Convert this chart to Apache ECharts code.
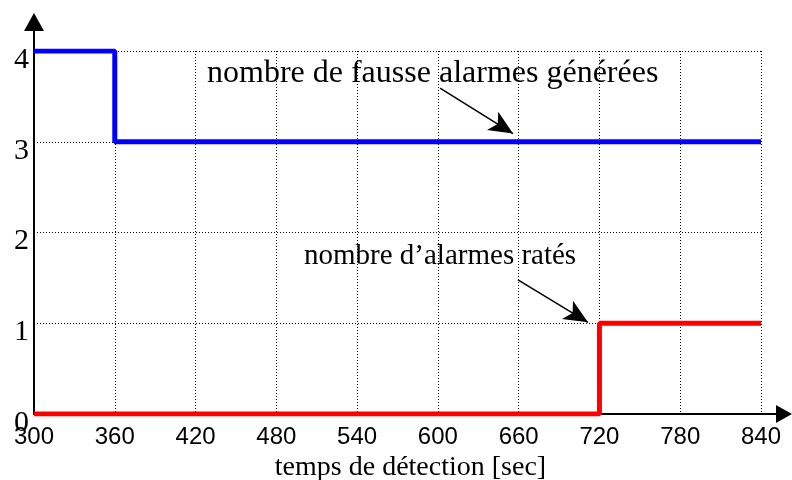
<!DOCTYPE html>
<html>
<head>
<meta charset="utf-8">
<script src="https://cdn.jsdelivr.net/npm/echarts@6/dist/echarts.min.js"></script>
<style>
  html, body { margin: 0; padding: 0; background: #fff; }
  #chart { width: 792px; height: 480px; }
</style>
</head>
<body>
<div id="chart"></div>
<script>
// Detection time axis (seconds) and count axis
const xMin = 300, xMax = 840, xStep = 60;
const yMin = 0, yMax = 4, yStep = 1;

// Number of false alarms generated, as a step function of detection time
const falseAlarmTimes = [300, 360, 840];
const falseAlarmCounts = [4, 3, 3];

// Number of missed alarms, as a step function of detection time
const missedTimes = [300, 720, 840];
const missedCounts = [0, 1, 1];

// Annotation texts
const falseAlarmLabel = 'nombre de fausse alarmes générées';
const missedLabel = 'nombre d\u2019alarmes ratés';
const xAxisTitle = 'temps de détection [sec]';

const serif = '"Liberation Serif", "Times New Roman", serif';
const sans = '"Liberation Sans", Arial, sans-serif';

const toPairs = (xs, ys) => xs.map((x, i) => [x, ys[i]]);

const dotted = { color: '#000', width: 1, type: [1, 2] };
const arrowLine = { color: '#000', width: 1.5, type: 'solid' };

const chart = echarts.init(document.getElementById('chart'), null, { renderer: 'canvas' });

chart.setOption({
  animation: false,
  backgroundColor: '#fff',
  grid: [
    { left: 34, right: 31, top: 51, bottom: 66, outerBoundsMode: 'none', containLabel: false },
    // frame for the arrowed axis lines, reaching past the plot area
    { left: 34, right: 8, top: 22, bottom: 66, outerBoundsMode: 'none', containLabel: false }
  ],
  xAxis: [
    {
      type: 'value', gridIndex: 0,
      min: xMin, max: xMax, interval: xStep,
      axisLine: { show: false },
      axisTick: { show: false },
      splitLine: { show: true, lineStyle: dotted },
      axisLabel: { margin: 11, color: '#000', fontFamily: sans, fontSize: 24 },
      name: xAxisTitle,
      nameLocation: 'middle',
      nameGap: 38,
      nameTextStyle: { color: '#000', fontFamily: serif, fontSize: 28, padding: [0, 0, 0, 26] }
    },
    {
      type: 'value', gridIndex: 1, min: 0, max: 1,
      axisLine: {
        show: true, onZero: false,
        lineStyle: { color: '#000', width: 2 },
        symbol: ['none', 'triangle'], symbolSize: [18, 16]
      },
      axisTick: { show: false }, axisLabel: { show: false }, splitLine: { show: false }
    }
  ],
  yAxis: [
    {
      type: 'value', gridIndex: 0,
      min: yMin, max: yMax, interval: yStep,
      axisLine: { show: false },
      axisTick: { show: false },
      splitLine: { show: true, lineStyle: dotted },
      axisLabel: {
        margin: 5, color: '#000', fontFamily: serif, fontSize: 30,
        verticalAlign: 'top', lineHeight: 18
      }
    },
    {
      type: 'value', gridIndex: 1, min: 0, max: 1,
      axisLine: {
        show: true, onZero: false,
        lineStyle: { color: '#000', width: 2 },
        symbol: ['none', 'triangle'], symbolSize: [20, 18]
      },
      axisTick: { show: false }, axisLabel: { show: false }, splitLine: { show: false }
    }
  ],
  series: [
    {
      name: falseAlarmLabel,
      type: 'line', step: 'end',
      xAxisIndex: 0, yAxisIndex: 0,
      data: toPairs(falseAlarmTimes, falseAlarmCounts),
      showSymbol: false, symbol: 'none',
      lineStyle: { color: '#0000ff', width: 5 },
      z: 3,
      markLine: {
        silent: true, symbol: ['none', 'arrow'], symbolSize: [16, 24],
        label: { show: false }, lineStyle: arrowLine,
        data: [[{ coord: [601.6, 3.59] }, { coord: [655.8, 3.09] }]]
      }
    },
    {
      name: missedLabel,
      type: 'line', step: 'end',
      xAxisIndex: 0, yAxisIndex: 0,
      data: toPairs(missedTimes, missedCounts),
      showSymbol: false, symbol: 'none',
      lineStyle: { color: '#ff0000', width: 5 },
      z: 3,
      markLine: {
        silent: true, symbol: ['none', 'arrow'], symbolSize: [16, 24],
        label: { show: false }, lineStyle: arrowLine,
        data: [[{ coord: [659.5, 1.477] }, { coord: [711.5, 1.01] }]]
      }
    }
  ],
  graphic: [
    {
      type: 'text', left: 207, top: 58, z: 10,
      style: { text: falseAlarmLabel, fill: '#000', font: '32px ' + serif }
    },
    {
      type: 'text', left: 304, top: 242, z: 10,
      style: { text: missedLabel, fill: '#000', font: '29px ' + serif }
    }
  ]
});
</script>
</body>
</html>
